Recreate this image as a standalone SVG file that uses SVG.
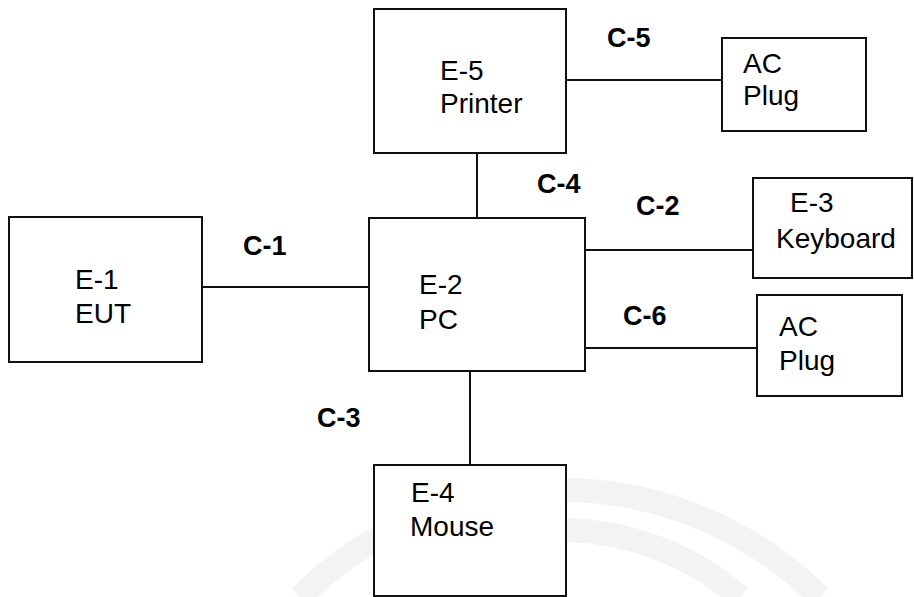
<svg xmlns="http://www.w3.org/2000/svg" width="914" height="597" viewBox="0 0 914 597">
<style>
.box{fill:#fff;stroke:#111;stroke-width:2}
.wire{stroke:#111;stroke-width:2;fill:none}
.t{font-family:"Liberation Sans",Arial,sans-serif;font-size:28px;fill:#000}
.l{font-family:"Liberation Sans",Arial,sans-serif;font-size:27px;font-weight:bold;fill:#000}
.wm{fill:none;stroke:#f3f3f3;stroke-width:24}
</style>
<rect width="914" height="597" fill="#fff"/>
<g id="watermark">
<path class="wm" d="M300,597 A369,369 0 0 1 820,597"/>
<path class="wm" d="M380,597 A275,275 0 0 1 740,597" stroke="#f6f6f6"/>
</g>
<g id="connectors">
<line class="wire" x1="566" y1="80" x2="722" y2="80"/>
<line class="wire" x1="477" y1="153" x2="477" y2="218"/>
<line class="wire" x1="202" y1="287" x2="369" y2="287"/>
<line class="wire" x1="585" y1="250" x2="753" y2="250"/>
<line class="wire" x1="585" y1="348" x2="757" y2="348"/>
<line class="wire" x1="470" y1="371" x2="470" y2="465"/>
<text class="l" x="607" y="47">C-5</text>
<text class="l" x="537" y="193">C-4</text>
<text class="l" x="636" y="215">C-2</text>
<text class="l" x="243" y="255">C-1</text>
<text class="l" x="623" y="325">C-6</text>
<text class="l" x="317" y="427">C-3</text>
</g>
<g id="e5"><rect class="box" x="374" y="9" width="192" height="144"/><text class="t" x="440" y="80">E-5</text><text class="t" x="440" y="113">Printer</text></g>
<g id="ac1"><rect class="box" x="722" y="38" width="144" height="93"/><text class="t" x="743" y="73">AC</text><text class="t" x="743" y="105">Plug</text></g>
<g id="e1"><rect class="box" x="9" y="217" width="193" height="145"/><text class="t" x="75" y="289">E-1</text><text class="t" x="75" y="323">EUT</text></g>
<g id="e2"><rect class="box" x="369" y="218" width="216" height="153"/><text class="t" x="419" y="294">E-2</text><text class="t" x="419" y="329">PC</text></g>
<g id="e3"><rect class="box" x="753" y="178" width="159" height="100"/><text class="t" x="790" y="212">E-3</text><text class="t" x="776" y="248">Keyboard</text></g>
<g id="ac2"><rect class="box" x="757" y="295" width="145" height="101"/><text class="t" x="779" y="336">AC</text><text class="t" x="779" y="370">Plug</text></g>
<g id="e4"><rect class="box" x="374" y="465" width="192" height="131"/><text class="t" x="411" y="502">E-4</text><text class="t" x="410" y="536">Mouse</text></g>
</svg>
